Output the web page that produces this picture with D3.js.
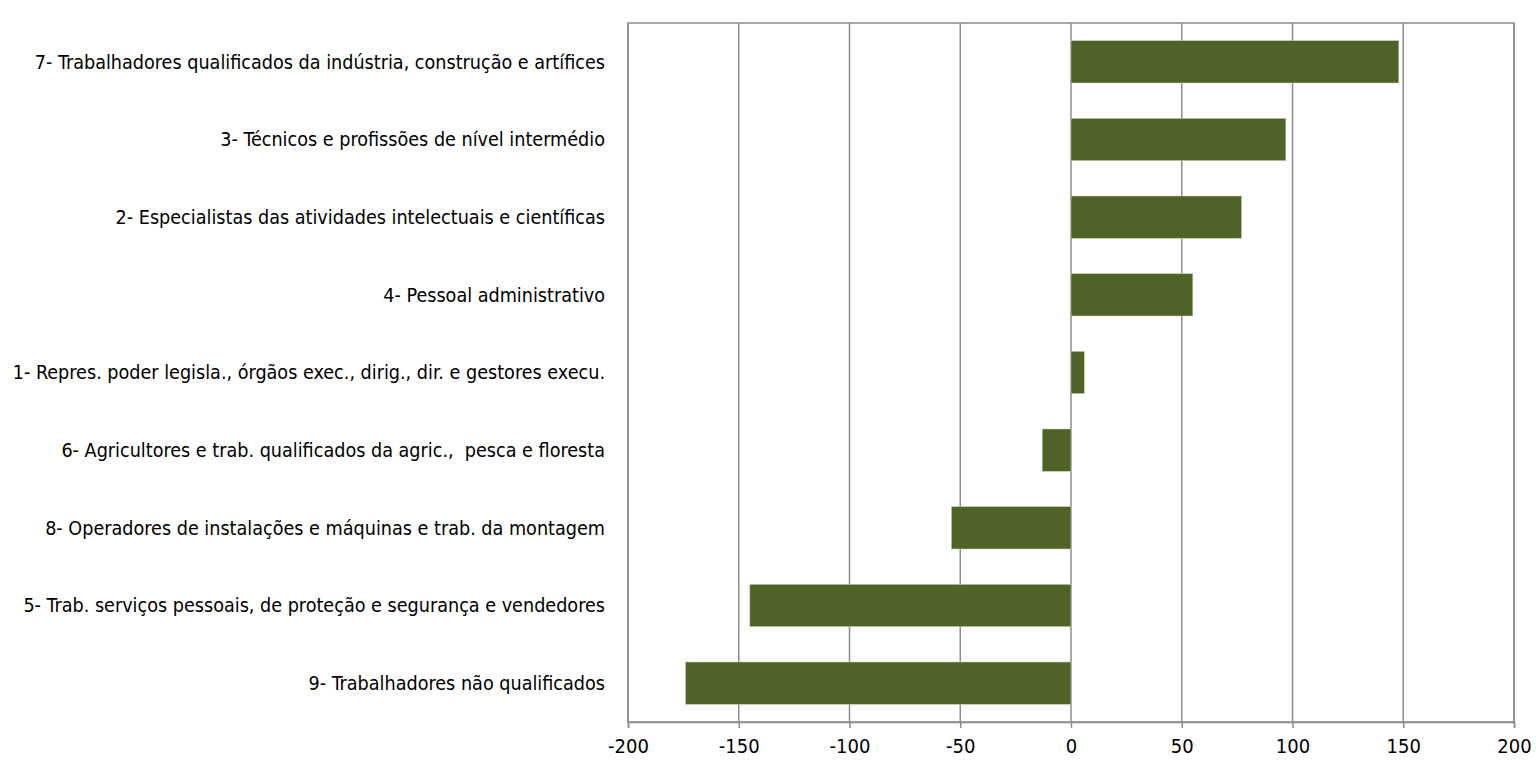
<!DOCTYPE html>
<html>
<head>
<meta charset="utf-8">
<script src="https://cdn.jsdelivr.net/npm/d3@7"></script>
<style>
  body { margin: 0; background: #fff; }
  text { font-family: "DejaVu Sans Condensed", "Liberation Sans Narrow", sans-serif; fill: #000; }
</style>
</head>
<body>
<script>
const categories = [
  "7- Trabalhadores qualificados da indústria, construção e artífices",
  "3- Técnicos e profissões de nível intermédio",
  "2- Especialistas das atividades intelectuais e científicas",
  "4- Pessoal administrativo",
  "1- Repres. poder legisla., órgãos exec., dirig., dir. e gestores execu.",
  "6- Agricultores e trab. qualificados da agric.,  pesca e floresta",
  "8- Operadores de instalações e máquinas e trab. da montagem",
  "5- Trab. serviços pessoais, de proteção e segurança e vendedores",
  "9- Trabalhadores não qualificados"
];
const values = [148, 97, 77, 55, 6, -13, -54, -145, -174];
const xTicks = [-200, -150, -100, -50, 0, 50, 100, 150, 200];

const W = 1536, H = 761;
const plotL = 628, plotR = 1514, plotT = 23, plotB = 722;

const svg = d3.select("body").append("svg")
  .attr("width", W).attr("height", H);

const x = d3.scaleLinear().domain([-200, 200]).range([plotL, plotR]);
const y = d3.scaleBand().domain(categories).range([plotT, plotB])
  .paddingInner(0.455).paddingOuter(0.2275);

// vertical gridlines
svg.append("g")
  .selectAll("line")
  .data(xTicks)
  .join("line")
  .attr("x1", d => x(d)).attr("x2", d => x(d))
  .attr("y1", plotT).attr("y2", plotB)
  .attr("stroke", "#8c8c8c")
  .attr("stroke-width", 1.5);

// plot frame
svg.append("rect")
  .attr("x", plotL).attr("y", plotT)
  .attr("width", plotR - plotL).attr("height", plotB - plotT)
  .attr("fill", "none")
  .attr("stroke", "#8c8c8c")
  .attr("stroke-width", 1.5);

// bars
svg.append("g")
  .selectAll("rect")
  .data(values)
  .join("rect")
  .attr("x", d => x(Math.min(0, d)))
  .attr("y", (d, i) => y(categories[i]))
  .attr("width", d => Math.abs(x(d) - x(0)))
  .attr("height", y.bandwidth())
  .attr("fill", "#4f6228")
  .attr("stroke", "#c4cfae")
  .attr("stroke-width", 0.6);

// x axis
const xAxis = svg.append("g")
  .attr("transform", `translate(0, ${plotB})`)
  .call(d3.axisBottom(x).tickValues(xTicks).tickSize(6).tickPadding(11).tickFormat(d3.format("d")));
xAxis.select(".domain").attr("stroke", "#8c8c8c").attr("stroke-width", 1.5);
xAxis.selectAll(".tick line").attr("stroke", "#8c8c8c").attr("stroke-width", 1.5);
xAxis.selectAll(".tick text").attr("font-size", 20).attr("fill", "#000")
  .style("font-family", '"DejaVu Sans Condensed", sans-serif')
  .text(d => d < 0 ? "-" + Math.abs(d) : d);

// category labels
svg.append("g")
  .selectAll("text")
  .data(categories)
  .join("text")
  .attr("x", 605)
  .attr("y", d => y(d) + y.bandwidth() / 2)
  .attr("dy", "0.35em")
  .attr("text-anchor", "end")
  .attr("font-size", 19.6)
  .style("white-space", "pre")
  .text(d => d);
</script>
</body>
</html>
